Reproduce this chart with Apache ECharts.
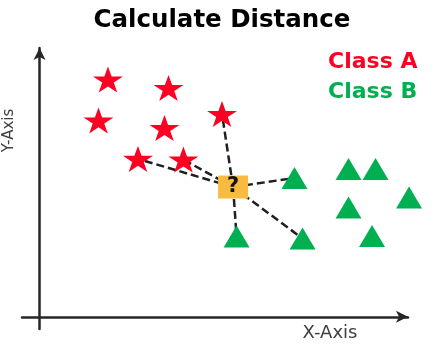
<!DOCTYPE html>
<html>
<head>
<meta charset="utf-8">
<title>Calculate Distance</title>
<script src="https://cdn.jsdelivr.net/npm/echarts@6/dist/echarts.min.js"></script>
<style>
  html, body { margin: 0; padding: 0; background: #fff; }
  #chart { width: 444px; height: 352px; }
</style>
</head>
<body>
<div id="chart"></div>
<script>
// Class A (stars)
const classAX = [3.9, 7.35, 3.36, 7.12, 10.4, 5.61, 8.2]
const classAY = [19.42, 18.73, 16.07, 15.45, 16.6, 12.92, 12.87]
// Class B (triangles)
const classBX = [14.53, 17.61, 19.15, 21.06, 17.61, 11.23, 14.99, 18.95]
const classBY = [11.36, 12.1, 12.1, 9.76, 8.95, 6.57, 6.41, 6.61]
// unknown point
const queryX = [11.03]
const queryY = [10.62]
// nearest neighbours joined to the unknown point (indexes into the arrays above)
const nearA = [4, 5, 6]
const nearB = [0, 5, 6]
const classNames = ['Class A', 'Class B']
const axisNames = ['X-Axis', 'Y-Axis']

const RED = '#FF0022'
const GREEN = '#00B050'
const starPath = 'path://M50,0 L61.8,35.4 L99,35.4 L68.9,57.3 L80.3,92.7 L50,70.8 L19.7,92.7 L31.1,57.3 L1,35.4 L38.2,35.4 Z'

const q = [queryX[0], queryY[0]]
const linkData = [
  ...nearA.map(i => ({ coords: [q, [classAX[i], classAY[i]]] })),
  ...nearB.map(i => ({ coords: [q, [classBX[i], classBY[i]]] }))
]

const chart = echarts.init(document.getElementById('chart'))

const axisLine = {
  onZero: true,
  symbol: ['none', 'arrow'],
  symbolSize: [9, 12],
  lineStyle: { color: '#262626', width: 2.5 }
}

const option = {
  animation: false,
  backgroundColor: '#fff',
  title: {
    text: 'Calculate Distance',
    left: 'center',
    top: 3,
    textStyle: {
      fontFamily: 'DejaVu Sans',
      fontSize: 24.5,
      fontWeight: 'bold',
      color: '#000'
    }
  },
  legend: {
    orient: 'vertical',
    left: 318,
    top: 46,
    icon: 'none',
    itemWidth: 0,
    itemGap: 8,
    selectedMode: false,
    textStyle: { fontFamily: 'DejaVu Sans', fontSize: 22, fontWeight: 'bold' },
    data: [
      { name: classNames[0], textStyle: { color: RED } },
      { name: classNames[1], textStyle: { color: GREEN } }
    ]
  },
  grid: {
    left: 22,
    right: 36,
    top: 48,
    bottom: 23,
    containLabel: false,
    outerBoundsMode: 'none'
  },
  xAxis: {
    type: 'value',
    min: -1,
    max: 21,
    name: axisNames[0],
    nameLocation: 'end',
    nameGap: -78,
    nameTextStyle: {
      fontFamily: 'DejaVu Sans',
      fontSize: 18,
      color: '#404040',
      align: 'center',
      verticalAlign: 'top',
      padding: [8, 0, 0, 0]
    },
    axisLine: axisLine,
    axisTick: { show: false },
    axisLabel: { show: false },
    splitLine: { show: false }
  },
  yAxis: {
    type: 'value',
    min: -1,
    max: 22,
    name: axisNames[1],
    nameLocation: 'middle',
    nameRotate: 90,
    nameGap: 5,
    nameTextStyle: {
      fontFamily: 'DejaVu Sans',
      fontSize: 15,
      color: '#404040',
      padding: [0, 0, 0, 116]
    },
    axisLine: axisLine,
    axisTick: { show: false },
    axisLabel: { show: false },
    splitLine: { show: false }
  },
  series: [
    {
      type: 'lines',
      coordinateSystem: 'cartesian2d',
      silent: true,
      z: 1,
      lineStyle: { color: '#1f1f1f', width: 2.5, type: [8, 4], opacity: 1, curveness: 0 },
      data: linkData
    },
    {
      name: classNames[0],
      type: 'scatter',
      symbol: starPath,
      symbolSize: [30, 26],
      clip: false,
      z: 3,
      itemStyle: { color: RED, opacity: 1 },
      data: classAX.map((x, i) => [x, classAY[i]])
    },
    {
      name: classNames[1],
      type: 'scatter',
      symbol: 'triangle',
      symbolSize: [26, 22],
      clip: false,
      z: 3,
      itemStyle: { color: GREEN, opacity: 1 },
      data: classBX.map((x, i) => [x, classBY[i]])
    },
    {
      name: '?',
      type: 'scatter',
      symbol: 'rect',
      symbolSize: [30, 23],
      clip: false,
      z: 4,
      itemStyle: { color: '#F9BA40', opacity: 1 },
      label: {
        show: true,
        position: 'inside',
        formatter: '?',
        fontFamily: 'DejaVu Sans',
        fontSize: 21,
        fontWeight: 'bold',
        color: '#111'
      },
      data: [q]
    }
  ]
}

chart.setOption(option)

window.addEventListener('resize', () => chart.resize())
</script>
</body>
</html>
